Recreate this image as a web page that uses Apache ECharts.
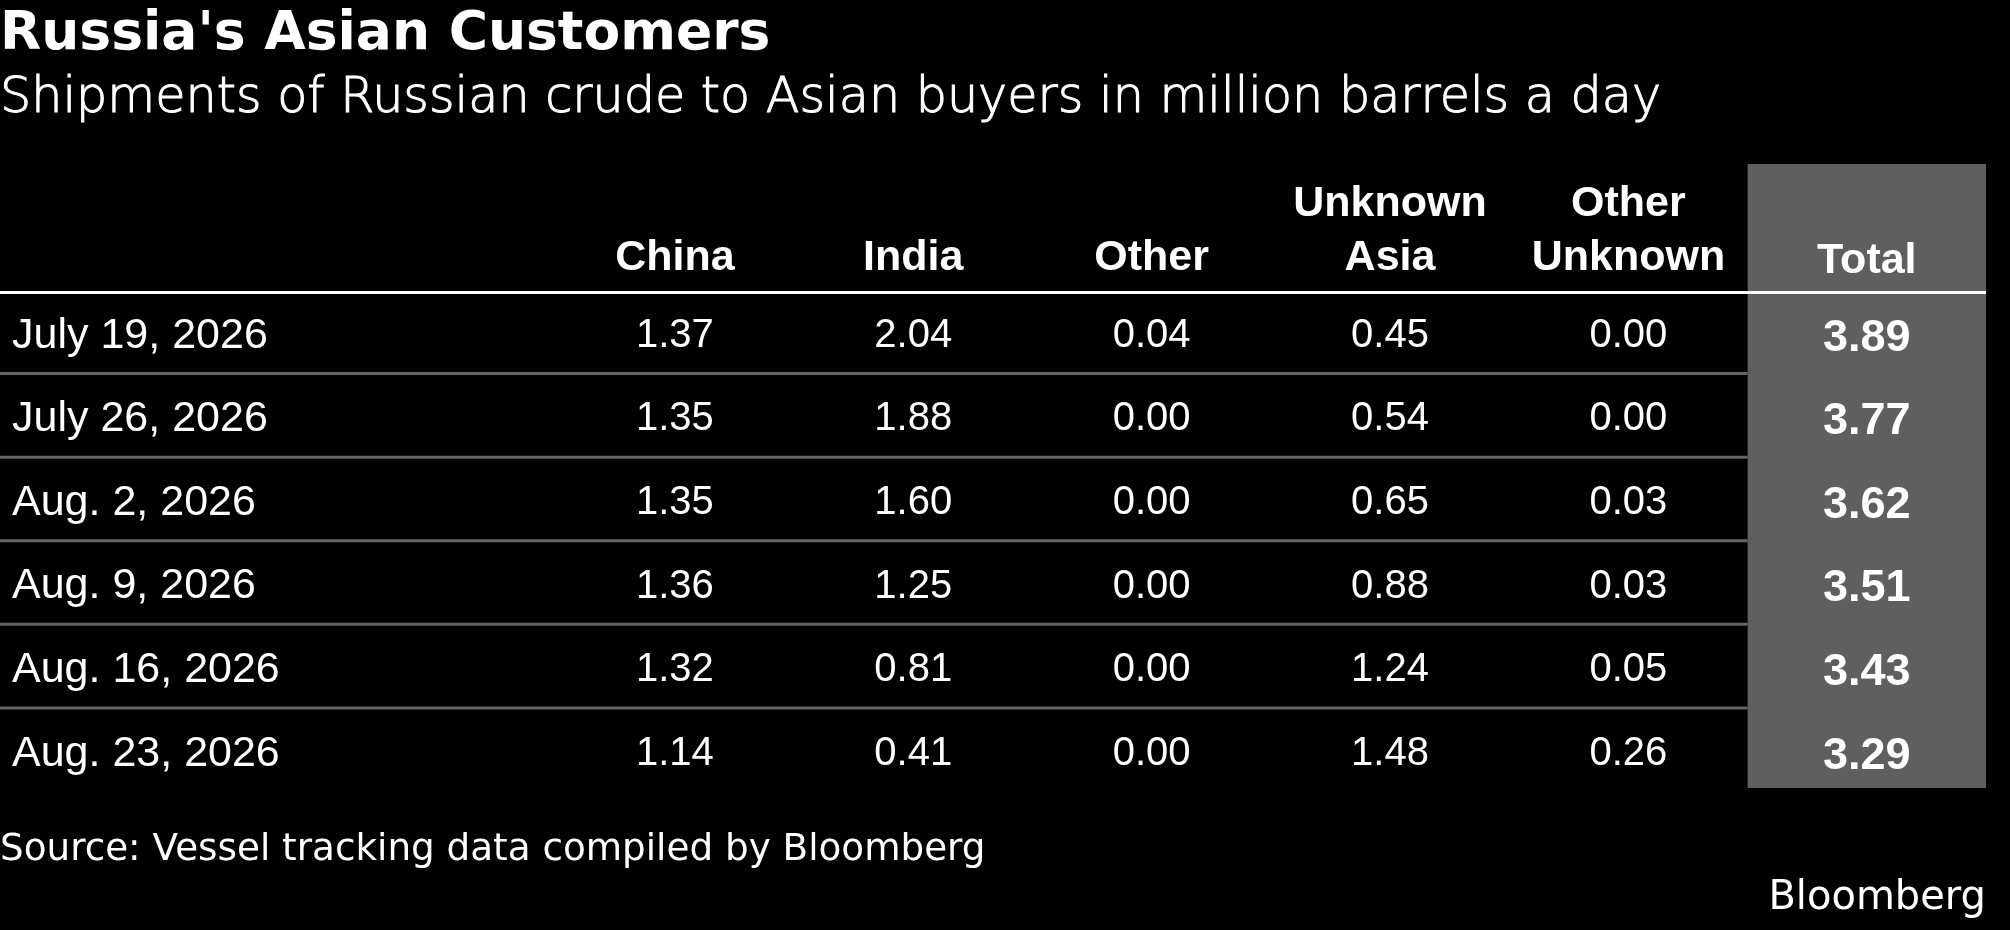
<!DOCTYPE html>
<html>
<head>
<meta charset="utf-8">
<script src="https://cdn.jsdelivr.net/npm/echarts@6/dist/echarts.min.js"></script>
<style>
  html, body { margin: 0; padding: 0; background: #000; }
  #chart { width: 2010px; height: 930px; }
</style>
</head>
<body>
<div id="chart"></div>
<script>
// Table content
const weeks = ['July 19, 2026', 'July 26, 2026', 'Aug. 2, 2026', 'Aug. 9, 2026', 'Aug. 16, 2026', 'Aug. 23, 2026'];
const columns = ['China', 'India', 'Other', 'Unknown\nAsia', 'Other\nUnknown', 'Total'];
const china = [1.37, 1.35, 1.35, 1.36, 1.32, 1.14];
const india = [2.04, 1.88, 1.60, 1.25, 0.81, 0.41];
const other = [0.04, 0.00, 0.00, 0.00, 0.00, 0.00];
const unknownAsia = [0.45, 0.54, 0.65, 0.88, 1.24, 1.48];
const otherUnknown = [0.00, 0.00, 0.03, 0.03, 0.05, 0.26];
const total = [3.89, 3.77, 3.62, 3.51, 3.43, 3.29];

const TABLE_FONT = '"Liberation Sans", Arial, sans-serif';
const TEXT_FONT = '"DejaVu Sans", sans-serif';
const BOX_GRAY = '#5f5f5f';
const RULE_GRAY = '#646464';

// axis extents: x in column units (China = 0), y in row units (first week = 0)
const X_MIN = -2.831;
const X_MAX = columns.length - 0.5;
const Y_MIN = -1.506;
const Y_MAX = weeks.length;
const HEADER_Y = -0.054;     // bottom of the header text
const HEADER_RULE_Y = 0.031; // white rule under the header
const BAND_END = 5.957;      // bottom of the grey Total band
const TEXT_DY = 4;           // px nudge so the figures sit where the reference has them

const byColumn = [china, india, other, unknownAsia, otherUnknown, total];
const totalCol = columns.length - 1;

const cellData = [];
byColumn.forEach((vals, col) => {
    vals.forEach((v, row) => cellData.push([col, row + 0.5, v]));
});
const headerData = columns.map((c, i) => [i, HEADER_Y]);
const weekData = weeks.map((w, i) => [X_MIN, i + 0.5]);
const ruleData = weeks.slice(1).map((w, i) => [X_MIN, i + 1]);

const chart = echarts.init(document.getElementById('chart'), null, { renderer: 'canvas' });

const option = {
    backgroundColor: '#000',
    animation: false,
    title: [
        {
            text: "Russia's Asian Customers",
            left: 0, top: 8, padding: 0,
            textStyle: { color: '#fff', fontFamily: TEXT_FONT, fontWeight: 'bold', fontSize: 53.5 }
        },
        {
            // light weight, thickened a touch with a hairline outline
            text: 'Shipments of Russian crude to Asian buyers in million barrels a day',
            left: 0, top: 74.5, padding: 0,
            textStyle: {
                color: '#fff', fontFamily: TEXT_FONT, fontWeight: 300, fontSize: 49.2,
                textBorderColor: '#fff', textBorderWidth: 1
            }
        },
        {
            text: 'Source: Vessel tracking data compiled by Bloomberg',
            left: 0, top: 832, padding: 0,
            textStyle: { color: '#fff', fontFamily: TEXT_FONT, fontWeight: 'normal', fontSize: 37.3 }
        },
        {
            text: 'Bloomberg',
            right: 24, top: 879, padding: 0,
            textStyle: { color: '#fff', fontFamily: TEXT_FONT, fontWeight: 'normal', fontSize: 40 }
        }
    ],
    grid: { left: 0, right: 24, top: 164, bottom: 138.4, containLabel: false },
    xAxis: { type: 'value', min: X_MIN, max: X_MAX, show: false },
    yAxis: { type: 'value', min: Y_MIN, max: Y_MAX, inverse: true, show: false },
    series: [
        {
            // grey band behind the Total column
            type: 'custom',
            name: 'totalBand',
            z: 1,
            silent: true,
            clip: false,
            data: [[totalCol - 0.5, Y_MIN, totalCol + 0.5, BAND_END]],
            encode: { x: [0, 2], y: [1, 3] },
            renderItem: (params, api) => {
                const p0 = api.coord([api.value(0), api.value(1)]);
                const p1 = api.coord([api.value(2), api.value(3)]);
                return {
                    type: 'rect',
                    shape: { x: p0[0], y: p0[1], width: p1[0] - p0[0], height: p1[1] - p0[1] },
                    style: { fill: BOX_GRAY }
                };
            }
        },
        {
            // grey rules between weeks, stopping at the Total band
            type: 'custom',
            name: 'rules',
            z: 2,
            silent: true,
            data: ruleData,
            encode: { x: 0, y: 1 },
            renderItem: (params, api) => {
                const a = api.coord([api.value(0), api.value(1)]);
                const b = api.coord([totalCol - 0.5, api.value(1)]);
                return {
                    type: 'line',
                    shape: { x1: a[0], y1: a[1], x2: b[0], y2: b[1] },
                    style: { stroke: RULE_GRAY, lineWidth: 3 }
                };
            }
        },
        {
            // white rule under the header
            type: 'custom',
            name: 'headerRule',
            z: 3,
            silent: true,
            data: [[X_MIN, HEADER_RULE_Y]],
            encode: { x: 0, y: 1 },
            renderItem: (params, api) => {
                const a = api.coord([api.value(0), api.value(1)]);
                const b = api.coord([X_MAX, api.value(1)]);
                return {
                    type: 'line',
                    shape: { x1: a[0], y1: a[1], x2: b[0], y2: b[1] },
                    style: { stroke: '#fff', lineWidth: 3 }
                };
            }
        },
        {
            type: 'custom',
            name: 'headers',
            z: 4,
            silent: true,
            data: headerData,
            encode: { x: 0, y: 1 },
            renderItem: (params, api) => {
                const col = api.value(0);
                const p = api.coord([col, api.value(1)]);
                return {
                    type: 'text',
                    style: {
                        x: p[0], y: p[1] + (col === totalCol ? 2.5 : 0),
                        text: columns[params.dataIndex],
                        fill: '#fff',
                        fontFamily: TABLE_FONT, fontWeight: 'bold', fontSize: 43,
                        lineHeight: 54,
                        align: 'center', verticalAlign: 'bottom'
                    }
                };
            }
        },
        {
            type: 'custom',
            name: 'weeks',
            z: 4,
            silent: true,
            data: weekData,
            encode: { x: 0, y: 1 },
            renderItem: (params, api) => {
                const p = api.coord([api.value(0), api.value(1)]);
                return {
                    type: 'text',
                    style: {
                        x: p[0] + 12, y: p[1] + TEXT_DY,
                        text: weeks[params.dataIndex],
                        fill: '#fff',
                        fontFamily: TABLE_FONT, fontSize: 43,
                        align: 'left', verticalAlign: 'middle'
                    }
                };
            }
        },
        {
            type: 'custom',
            name: 'cells',
            z: 4,
            silent: true,
            data: cellData,
            encode: { x: 0, y: 1 },
            renderItem: (params, api) => {
                const col = api.value(0);
                const p = api.coord([col, api.value(1)]);
                const isTotal = col === totalCol;
                return {
                    type: 'text',
                    style: {
                        x: p[0], y: p[1] + TEXT_DY + (isTotal ? 2.5 : 0),
                        text: api.value(2).toFixed(2),
                        fill: '#fff',
                        fontFamily: TABLE_FONT,
                        fontWeight: isTotal ? 'bold' : 'normal',
                        fontSize: isTotal ? 45 : 40,
                        align: 'center', verticalAlign: 'middle'
                    }
                };
            }
        }
    ]
};

chart.setOption(option);

window.addEventListener('resize', () => {
    chart.resize();
});
</script>
</body>
</html>
